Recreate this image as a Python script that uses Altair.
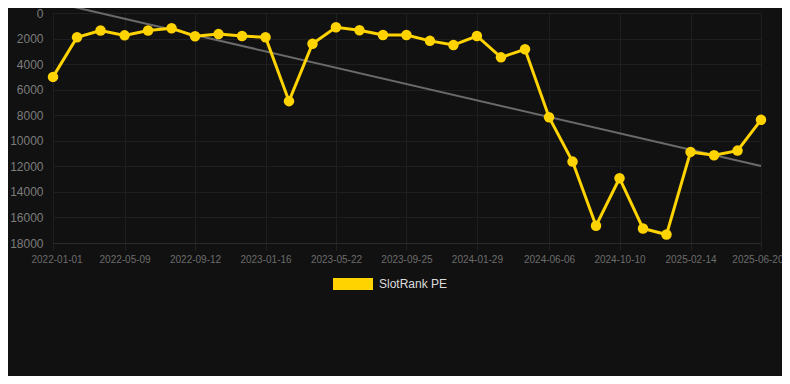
import altair as alt
import pandas as pd

dates = [
    "2022-01-01", "2022-02-13", "2022-03-27", "2022-05-09", "2022-06-20",
    "2022-08-01", "2022-09-12", "2022-10-24", "2022-12-05", "2023-01-16",
    "2023-02-27", "2023-04-10", "2023-05-22", "2023-07-03", "2023-08-14",
    "2023-09-25", "2023-11-06", "2023-12-18", "2024-01-29", "2024-03-12",
    "2024-04-24", "2024-06-06", "2024-07-18", "2024-08-29", "2024-10-10",
    "2024-11-21", "2025-01-02", "2025-02-14", "2025-03-28", "2025-05-09",
    "2025-06-20",
]
ranks = [
    5000, 1900, 1370, 1750, 1370, 1190, 1820, 1650, 1800, 1900,
    6900, 2410, 1120, 1350, 1720, 1720, 2180, 2510, 1800, 3470,
    2840, 8160, 11630, 16650, 12930, 16860, 17340, 10870, 11130, 10770,
    8360,
]
series_name = "SlotRank PE"
x_tick_labels = [
    "2022-01-01", "2022-05-09", "2022-09-12", "2023-01-16", "2023-05-22",
    "2023-09-25", "2024-01-29", "2024-06-06", "2024-10-10", "2025-02-14",
    "2025-06-20",
]
y_ticks = [0, 2000, 4000, 6000, 8000, 10000, 12000, 14000, 16000, 18000]

YELLOW = "#FFD300"
FONT = "Liberation Sans"

df = pd.DataFrame({"date": dates, "rank": ranks, "series": series_name})


def dt(s):
    y, m, d = (int(p) for p in s.split("-"))
    return alt.DateTime(year=y, month=m, date=d, utc=True)


x_enc = alt.X(
    "date:T",
    scale=alt.Scale(type="utc", nice=False, padding=0),
    axis=alt.Axis(
        values=[dt(s) for s in x_tick_labels],
        format="%Y-%m-%d",
        title=None,
        labelFontSize=10,
        labelColor="#6c6c6c",
        labelFont=FONT,
        labelPadding=4,
        labelFlush=True,
        labelFlushOffset=22,
        tickSize=7,
        tickColor="#222222",
        gridColor="#1f1f1f",
        domainColor="#2a2a2a",
    ),
)
y_enc = alt.Y(
    "rank:Q",
    scale=alt.Scale(domain=[0, 18000], reverse=True, nice=False, zero=False),
    axis=alt.Axis(
        values=y_ticks,
        title=None,
        labelFontSize=12,
        labelColor="#7c7c7c",
        labelFont=FONT,
        labelPadding=10,
        ticks=False,
        domain=False,
        gridColor="#1f1f1f",
        format="d",
    ),
)

base = alt.Chart(df)

trend = base.transform_regression("date", "rank").mark_line(
    color="#6a6a6a", strokeWidth=2
).encode(x=x_enc, y=y_enc)

line = base.mark_line(strokeWidth=3).encode(
    x=x_enc,
    y=y_enc,
    color=alt.Color(
        "series:N",
        scale=alt.Scale(range=[YELLOW]),
        legend=alt.Legend(
            title=None,
            orient="none",
            legendX=280,
            legendY=251,
            symbolType="M-1,-0.3H1V0.3H-1Z",
            symbolSize=1600,
            symbolFillColor=YELLOW,
            symbolStrokeWidth=0,
            labelFontSize=12,
            labelColor="#dddddd",
            labelFont=FONT,
            labelOffset=6,
            padding=0,
        ),
    ),
)

points = base.mark_circle(size=110, opacity=1, color=YELLOW).encode(x=x_enc, y=y_enc)

chart = (
    alt.layer(trend, line, points)
    .properties(
        width=708,
        height=230,
        padding={"left": 45, "top": 5, "right": 21, "bottom": 133},
        autosize=alt.AutoSizeParams(type="none"),
        background="#111111",
    )
    .configure_view(stroke=None)
)

chart.save("out.html", embed_options={"renderer": "svg", "actions": False})
